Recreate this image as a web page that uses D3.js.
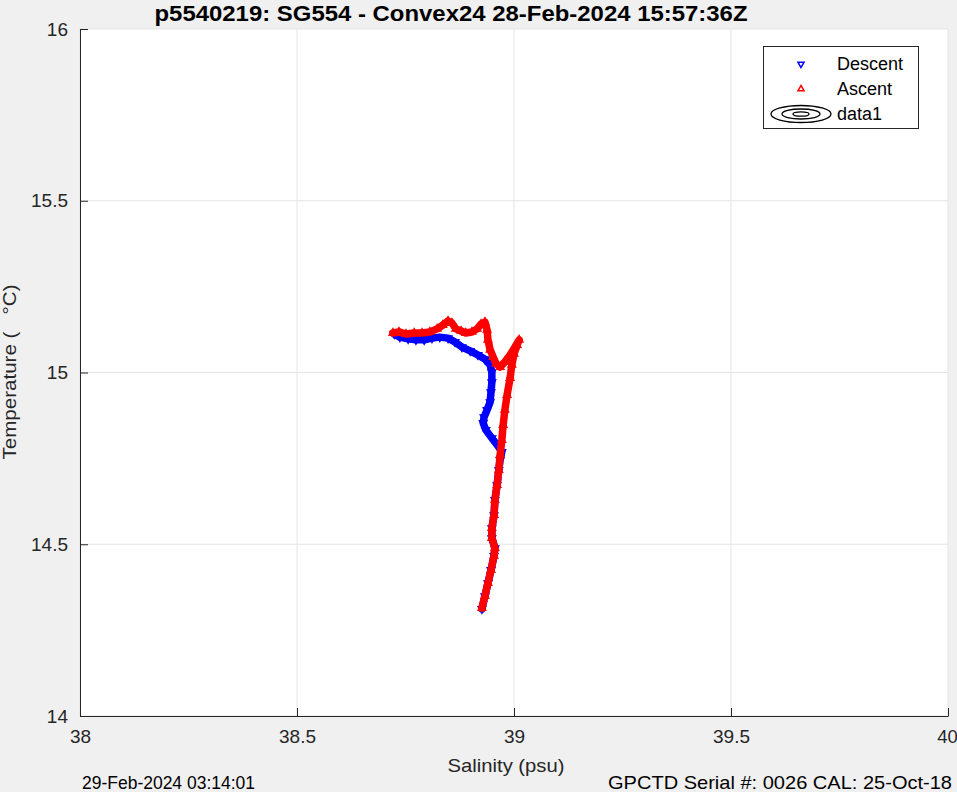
<!DOCTYPE html>
<html><head><meta charset="utf-8">
<script src="https://cdn.jsdelivr.net/npm/d3@7"></script>
<style>body{margin:0;background:#f0f0f0;}svg{display:block;}text{font-family:"Liberation Sans",Arial,sans-serif;white-space:pre;}</style>
</head><body>
<script>
// Descent trace (salinity psu, temperature °C), surface -> depth
const descentSal = [38.724,38.737,38.756,38.774,38.793,38.811,38.829,38.848,38.864,38.880,38.899,38.917,38.933,38.945,38.949,38.949,38.947,38.945,38.938,38.931,38.929,38.935,38.949,38.963,38.972,38.968,38.965,38.961,38.956,38.954,38.949,38.949,38.956,38.954,38.947,38.940,38.933,38.926];
const descentTemp = [15.112,15.103,15.098,15.095,15.095,15.100,15.103,15.100,15.089,15.074,15.063,15.051,15.039,15.022,15.001,14.972,14.943,14.914,14.891,14.870,14.853,14.833,14.809,14.786,14.769,14.745,14.716,14.672,14.629,14.585,14.547,14.518,14.489,14.466,14.425,14.387,14.349,14.312];
// Ascent trace, depth -> surface
const ascentSal = [38.926,38.933,38.940,38.947,38.954,38.956,38.949,38.949,38.954,38.956,38.961,38.965,38.968,38.972,38.975,38.979,38.984,38.991,38.995,39.000,39.007,39.012,39.002,38.991,38.979,38.968,38.959,38.952,38.945,38.940,38.938,38.933,38.924,38.915,38.903,38.889,38.878,38.866,38.857,38.848,38.836,38.823,38.806,38.788,38.770,38.751,38.735,38.721];
const ascentTemp = [14.314,14.349,14.387,14.425,14.466,14.489,14.518,14.547,14.585,14.629,14.672,14.716,14.760,14.803,14.847,14.891,14.934,14.984,15.022,15.054,15.080,15.095,15.074,15.051,15.031,15.016,15.025,15.045,15.066,15.095,15.124,15.147,15.141,15.127,15.118,15.115,15.121,15.127,15.144,15.150,15.138,15.127,15.118,15.115,15.115,15.112,15.118,15.115];
const xTicks = [38, 38.5, 39, 39.5, 40];
const yTicks = [14, 14.5, 15, 15.5, 16];
const legendLabels = ["Descent", "Ascent", "data1"];
const titleText = "p5540219: SG554 - Convex24 28-Feb-2024 15:57:36Z";
const xLabel = "Salinity (psu)";
const yLabel = "Temperature (   °C)";
const leftNote = "29-Feb-2024 03:14:01";
const rightNote = "GPCTD Serial #: 0026 CAL: 25-Oct-18";

const W = 957, H = 792;
const m = {l: 80, r: 948, t: 29, b: 716};
const svg = d3.select("body").append("svg").attr("width", W).attr("height", H);
svg.append("rect").attr("width", W).attr("height", H).attr("fill", "#f0f0f0");
const x = d3.scaleLinear().domain([38, 40]).range([m.l, m.r]);
const y = d3.scaleLinear().domain([14, 16]).range([m.b, m.t]);

svg.append("rect").attr("x", m.l).attr("y", m.t).attr("width", m.r - m.l).attr("height", m.b - m.t).attr("fill", "#fff");

// grid
const g = svg.append("g");
g.selectAll(".gx").data(xTicks).join("line").attr("x1", d => x(d)).attr("x2", d => x(d)).attr("y1", m.t).attr("y2", m.b).attr("stroke", "#e5e5e5").attr("stroke-width", 1);
g.selectAll(".gy").data(yTicks).join("line").attr("y1", d => y(d)).attr("y2", d => y(d)).attr("x1", m.l).attr("x2", m.r).attr("stroke", "#e5e5e5").attr("stroke-width", 1);

// axes
const xAxis = d3.axisBottom(x).tickValues(xTicks).tickFormat(d3.format("")).tickSizeInner(-8).tickSizeOuter(0).tickPadding(14);
const yAxis = d3.axisLeft(y).tickValues(yTicks).tickFormat(d3.format("")).tickSizeInner(-8).tickSizeOuter(0).tickPadding(12);
const gx = svg.append("g").attr("transform", `translate(0,${m.b})`).call(xAxis);
const gy = svg.append("g").attr("transform", `translate(${m.l},0)`).call(yAxis);
[gx, gy].forEach(a => {
  a.select(".domain").attr("stroke", "#262626").attr("stroke-width", 1);
  a.selectAll(".tick line").attr("stroke", "#262626");
  a.selectAll(".tick text").attr("fill", "#262626").style("font-size", "19px").style("font-family", "'Liberation Sans',Arial,sans-serif");
});
gx.selectAll(".tick text").filter(d => d === 40).attr("dx", -1).style("font-size", "18.5px");

// traces
const desc = descentSal.map((s, i) => [s, descentTemp[i]]);
const asc = ascentSal.map((s, i) => [s, ascentTemp[i]]);
const line = d3.line().x(d => x(d[0])).y(d => y(d[1])).curve(d3.curveLinear);
const tri = d3.symbol().type(d3.symbolTriangle).size(24);

function drawTrace(data, color, down) {
  svg.append("path").attr("d", line(data)).attr("fill", "none").attr("stroke", color).attr("stroke-width", 7.5).attr("stroke-linejoin", "round").attr("stroke-linecap", "round");
  svg.append("g").selectAll("path").data(data).join("path").attr("d", tri)
    .attr("transform", d => `translate(${x(d[0])},${y(d[1])}) rotate(${down ? 180 : 0})`)
    .attr("fill", "none").attr("stroke", color).attr("stroke-width", 1.5);
}
drawTrace(desc, "#0000ff", true);
drawTrace(asc, "#ff0000", false);

// legend
const lg = svg.append("g");
lg.append("rect").attr("x", 763.5).attr("y", 46.5).attr("width", 155).attr("height", 82).attr("fill", "#fff").attr("stroke", "#262626").attr("stroke-width", 1);
const ly = [64, 89, 114];
lg.append("path").attr("d", d3.symbol().type(d3.symbolTriangle).size(16)).attr("transform", `translate(801,${ly[0]}) rotate(180)`).attr("fill", "none").attr("stroke", "#0000ff").attr("stroke-width", 1.5);
lg.append("path").attr("d", d3.symbol().type(d3.symbolTriangle).size(16)).attr("transform", `translate(801,${ly[1]})`).attr("fill", "none").attr("stroke", "#ff0000").attr("stroke-width", 1.5);
[[30, 8.5], [19, 5], [8, 2.2]].forEach(([rx, ry]) => {
  lg.append("ellipse").attr("cx", 801).attr("cy", ly[2]).attr("rx", rx).attr("ry", ry).attr("fill", "none").attr("stroke", "#000").attr("stroke-width", 1.3);
});
lg.selectAll("text").data(legendLabels).join("text").attr("x", 837).attr("y", (d, i) => ly[i] + 6).text(d => d).attr("fill", "#000").style("font-size", "18px");

// texts
svg.append("text").attr("x", 451).attr("y", 21).attr("text-anchor", "middle").attr("textLength", 593).attr("lengthAdjust", "spacingAndGlyphs").style("font-size", "22px").style("font-weight", "bold").attr("fill", "#000").text(titleText);
svg.append("text").attr("x", 506).attr("y", 772).attr("text-anchor", "middle").attr("textLength", 117).attr("lengthAdjust", "spacingAndGlyphs").style("font-size", "19px").attr("fill", "#262626").text(xLabel);
svg.append("text").attr("transform", "translate(16,372) rotate(-90)").attr("text-anchor", "middle").attr("textLength", 175).attr("lengthAdjust", "spacingAndGlyphs").style("font-size", "19px").attr("fill", "#262626").text(yLabel);
svg.append("text").attr("x", 82).attr("y", 789).attr("textLength", 173).attr("lengthAdjust", "spacingAndGlyphs").style("font-size", "19px").attr("fill", "#000").text(leftNote);
svg.append("text").attr("x", 608).attr("y", 789).attr("textLength", 344).attr("lengthAdjust", "spacingAndGlyphs").style("font-size", "19px").attr("fill", "#000").text(rightNote);
</script>
</body></html>
